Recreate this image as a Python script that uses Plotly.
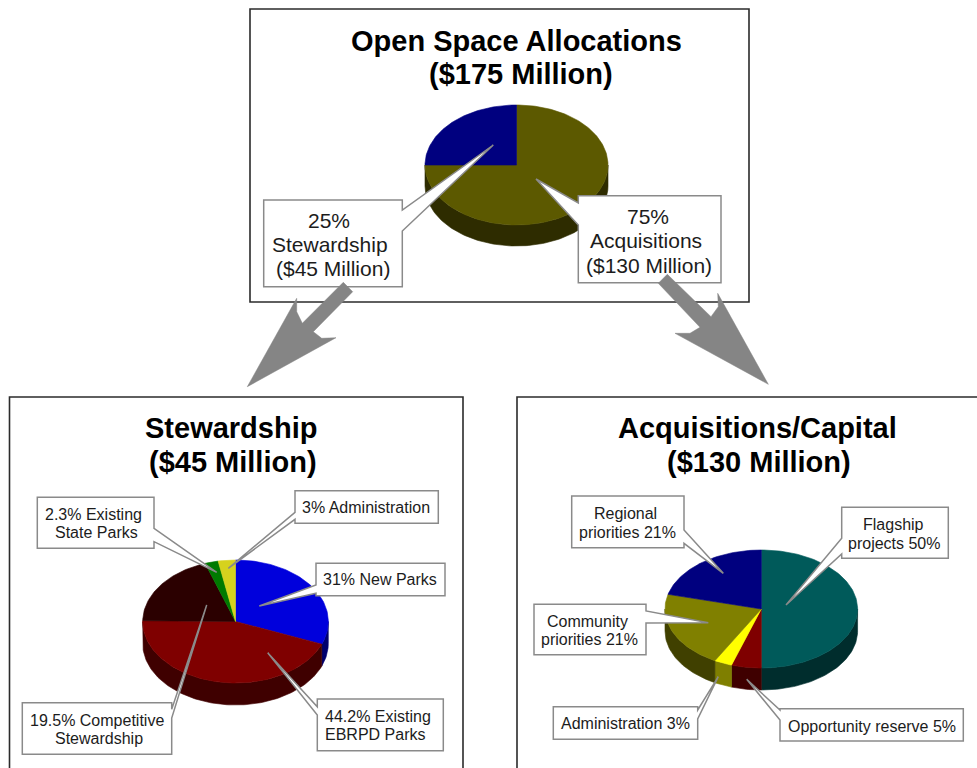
import math
import plotly.graph_objects as go

# ---------- data ----------
open_labels = ["Acquisitions", "Stewardship"]
open_values = [75, 25]
open_colors = ["#5c5900", "#00007f"]

stew_labels = ["New Parks", "Existing EBRPD Parks", "Competitive Stewardship",
               "Existing State Parks", "Administration"]
stew_values = [31, 44.2, 19.5, 2.3, 3]
stew_colors = ["#0000dc", "#7f0000", "#2b0000", "#007a00", "#d6d21e"]

acq_labels = ["Flagship projects", "Opportunity reserve", "Administration",
              "Community priorities", "Regional priorities"]
acq_values = [50, 5, 3, 21, 21]
acq_colors = ["#005a5a", "#7f0000", "#ffff00", "#808000", "#00007f"]

FONT = "Liberation Sans, Arial, sans-serif"
INK = "#1c1c1c"
EDGE = "#8a8a8a"

fig = go.Figure()


def arc(cx, cy, rx, ry, a0, a1):
    n = max(2, int(abs(a1 - a0) / 1.5) + 1)
    pts = [a0 + (a1 - a0) * i / (n - 1) for i in range(n)]
    return ([cx + rx * math.sin(math.radians(a)) for a in pts],
            [cy - ry * math.cos(math.radians(a)) for a in pts])


def darken(hex_color):
    return "#%02x%02x%02x" % tuple(int(hex_color[i:i + 2], 16) // 2 for i in (1, 3, 5))


def pie3d(labels, values, colors, cx, cy, rx, ry, depth):
    total = sum(values)
    start = 0.0
    spans = []
    for v in values:
        spans.append((start, start + v / total * 360))
        start = spans[-1][1]
    # side walls: only the front half (90..270 degrees) is visible
    for lab, col, (a0, a1) in zip(labels, colors, spans):
        lo, hi = max(a0, 90), min(a1, 270)
        if hi <= lo:
            continue
        xs, ys = arc(cx, cy, rx, ry, lo, hi)
        xb, yb = arc(cx, cy + depth, rx, ry, hi, lo)
        side = darken(col)
        fig.add_trace(go.Scatter(x=xs + xb + xs[:1], y=ys + yb + ys[:1], mode="lines",
                                 fill="toself", fillcolor=side,
                                 line=dict(color=side, width=0.6),
                                 hoverinfo="skip", showlegend=False))
    # top faces
    for lab, val, col, (a0, a1) in zip(labels, values, colors, spans):
        xs, ys = arc(cx, cy, rx, ry, a0, a1)
        fig.add_trace(go.Scatter(x=[cx] + xs + [cx], y=[cy] + ys + [cy], mode="lines",
                                 fill="toself", fillcolor=col,
                                 line=dict(color=col, width=0.6),
                                 name=lab, text=f"{lab}: {val}%", hoverinfo="text",
                                 showlegend=False))


pie3d(open_labels, open_values, open_colors, 516.5, 165, 91.5, 60, 21)
pie3d(stew_labels, stew_values, stew_colors, 235.5, 621.5, 92.8, 61.5, 22)
pie3d(acq_labels, acq_values, acq_colors, 761.3, 609, 96.3, 59, 22)

shapes = []


def frame(x0, y0, x1, y1):
    shapes.append(dict(type="rect", xref="x", yref="y", x0=x0, y0=y0, x1=x1, y1=y1,
                       line=dict(color="#2b2b2b", width=1.6), fillcolor="white", layer="below"))


frame(250, 9, 749, 302)
frame(9.5, 397, 463, 790)
frame(517, 397, 1000, 790)


def poly(points, fill, line=None, width=1.6):
    d = "M" + " L".join(f"{x},{y}" for x, y in points) + " Z"
    shapes.append(dict(type="path", xref="x", yref="y", path=d, fillcolor=fill,
                       line=dict(color=line or fill, width=width), layer="above"))


def callout(points):
    poly(points, "white", EDGE, 1.5)


# callouts
callout([(263.7, 200), (402.3, 200), (402.3, 210), (493.3, 145), (402.3, 231),
         (402.3, 286.7), (263.7, 286.7)])
callout([(578.3, 195.7), (721, 195.7), (721, 282.7), (578.3, 282.7), (578.3, 225),
         (536, 179), (578.3, 203)])
callout([(37.3, 497.3), (154, 497.3), (154, 528.3), (216.7, 572.3), (154, 541.7),
         (154, 548.3), (37.3, 548.3)])
callout([(295, 490.7), (438.3, 490.7), (438.3, 523.3), (295, 523.3), (295, 519.3),
         (228.3, 568.3), (295, 512.3)])
callout([(316, 563.3), (445, 563.3), (445, 595.7), (316, 595.7), (316, 593.3),
         (259.3, 606), (316, 585)])
callout([(317.3, 699), (443.3, 699), (443.3, 750.7), (317.3, 750.7), (317.3, 715),
         (267.7, 652.7), (317.3, 706.7)])
callout([(22.3, 702.7), (171.7, 702.7), (171.7, 709.3), (206.7, 605), (171.7, 718),
         (171.7, 754.3), (22.3, 754.3)])
callout([(841.7, 507.3), (948.3, 507.3), (948.3, 558.3), (841.7, 558.3), (841.7, 554),
         (786, 605), (841.7, 538.3)])
callout([(571.7, 496), (684, 496), (684, 530), (723.3, 573.3), (684, 543.3),
         (684, 547.7), (571.7, 547.7)])
callout([(534, 604.3), (646, 604.3), (646, 611), (708.3, 622.7), (646, 623),
         (646, 654.7), (534, 654.7)])
callout([(553.3, 706.7), (697.7, 706.7), (697.7, 710), (718.3, 676.7), (697.7, 719),
         (697.7, 739.3), (553.3, 739.3)])
callout([(780, 708.7), (963.3, 708.7), (963.3, 741), (780, 741), (780, 720),
         (746.7, 679.3), (780, 710)])

# arrows (drawn over the callouts and frames)
poly([(343.3, 282.3), (352.7, 291.7), (313.3, 331.7), (321.7, 338.3), (336, 337.7),
      (247.3, 386.7), (296.7, 298.3), (296.7, 311.7), (302.3, 323.3)], "#858585", None, 0.5)
poly([(667.3, 274.3), (711, 316.7), (718.3, 306.7), (717.7, 293.3), (768.3, 384.3),
      (675, 333.3), (690, 333.3), (700, 327.3), (658.3, 283.3)], "#858585", None, 0.5)

annotations = []


def label(text, x, y, size, bold=False):
    annotations.append(dict(text=f"<b>{text}</b>" if bold else text, x=x, y=y,
                            xref="x", yref="y", showarrow=False,
                            xanchor="center", yanchor="middle", align="center",
                            font=dict(family=FONT, size=size, color="#000000" if bold else INK)))


label("Open Space Allocations", 516.3, 41, 29, True)
label("($175 Million)", 520.5, 74, 29, True)
label("Stewardship", 231, 428, 29, True)
label("($45 Million)", 233, 462, 29, True)
label("Acquisitions/Capital", 757.5, 428, 29, True)
label("($130 Million)", 759, 462, 29, True)

label("25%", 329, 220, 21)
label("Stewardship", 330, 244, 21)
label("($45 Million)", 333, 268, 21)
label("75%", 648, 216, 21)
label("Acquisitions", 646, 240, 21)
label("($130 Million)", 649, 265, 21)

label("2.3% Existing", 93, 514, 16)
label("State Parks", 96, 532, 16)
label("3% Administration", 366, 507, 16)
label("31% New Parks", 380, 579, 16)
label("44.2% Existing", 377.5, 716.5, 16)
label("EBRPD Parks", 375, 734, 16)
label("19.5% Competitive", 97, 720.5, 16)
label("Stewardship", 99, 738.5, 16)
label("Flagship", 893, 524, 16)
label("projects 50%", 894.7, 543, 16)
label("Regional", 625, 513, 16)
label("priorities 21%", 627, 532, 16)
label("Community", 587, 621, 16)
label("priorities 21%", 589.5, 639, 16)
label("Administration 3%", 625, 723.5, 16)
label("Opportunity reserve 5%", 871.7, 726, 16)

fig.update_layout(
    width=977, height=768, autosize=False,
    margin=dict(l=0, r=0, t=0, b=0),
    paper_bgcolor="white", plot_bgcolor="white",
    xaxis=dict(range=[0, 977], visible=False, fixedrange=True),
    yaxis=dict(range=[768, 0], visible=False, fixedrange=True),
    shapes=shapes, annotations=annotations, showlegend=False,
)

fig.write_html("out.html", config=dict(displayModeBar=False),
               post_script="document.body.style.margin='0';document.body.style.overflow='hidden';")
